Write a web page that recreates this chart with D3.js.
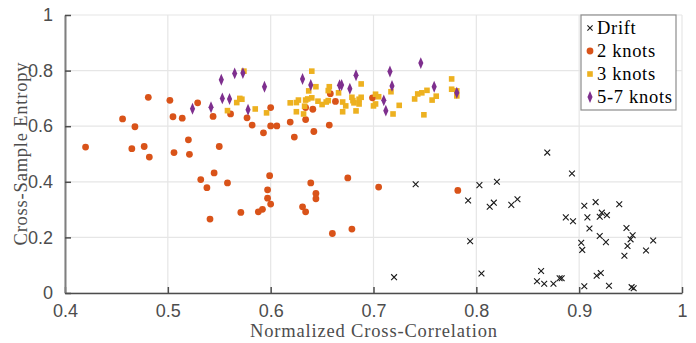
<!DOCTYPE html>
<html>
<head>
<meta charset="utf-8">
<script src="https://cdn.jsdelivr.net/npm/d3@7"></script>
<style>
  html, body { margin: 0; padding: 0; background: #fff; }
  svg { display: block; }
</style>
</head>
<body>
<svg id="chart" width="696" height="343"></svg>
<script>
// Drift (x markers)
const driftX = [0.720,0.741,0.792,0.794,0.803,0.805,0.813,0.817,0.820,0.834,0.840,0.859,0.863,0.866,0.875,0.881,0.883,0.869,0.887,0.894,0.893,0.902,0.903,0.905,0.905,0.908,0.910,0.916,0.917,0.921,0.920,0.922,0.920,0.927,0.926,0.929,0.939,0.944,0.946,0.947,0.950,0.952,0.951,0.953,0.965,0.972];
const driftY = [0.057,0.391,0.333,0.186,0.388,0.070,0.310,0.325,0.400,0.317,0.337,0.042,0.079,0.033,0.033,0.053,0.053,0.505,0.272,0.258,0.430,0.181,0.155,0.314,0.024,0.272,0.232,0.327,0.062,0.072,0.274,0.289,0.205,0.280,0.183,0.026,0.319,0.134,0.234,0.169,0.193,0.208,0.021,0.017,0.153,0.189];

// 2 knots (circles)
const knots2X = [0.420,0.456,0.468,0.465,0.477,0.482,0.481,0.502,0.505,0.514,0.506,0.520,0.521,0.529,0.544,0.550,0.532,0.538,0.545,0.541,0.558,0.561,0.577,0.582,0.593,0.600,0.600,0.606,0.599,0.597,0.597,0.600,0.592,0.588,0.571,0.619,0.623,0.634,0.634,0.641,0.642,0.639,0.644,0.644,0.631,0.634,0.657,0.658,0.663,0.675,0.679,0.660,0.699,0.705,0.782];
const knots2Y = [0.525,0.626,0.598,0.519,0.527,0.489,0.704,0.693,0.634,0.629,0.505,0.551,0.499,0.684,0.635,0.527,0.408,0.379,0.432,0.266,0.396,0.644,0.630,0.604,0.576,0.601,0.667,0.601,0.422,0.371,0.341,0.320,0.301,0.292,0.290,0.615,0.561,0.667,0.624,0.661,0.581,0.396,0.358,0.339,0.310,0.292,0.604,0.717,0.689,0.414,0.230,0.214,0.702,0.381,0.369];

// 3 knots (squares)
const knots3X = [0.574,0.570,0.572,0.567,0.558,0.585,0.596,0.619,0.625,0.627,0.625,0.632,0.633,0.634,0.636,0.637,0.640,0.640,0.644,0.646,0.650,0.654,0.657,0.656,0.656,0.666,0.670,0.670,0.673,0.679,0.680,0.681,0.683,0.686,0.686,0.688,0.688,0.700,0.702,0.702,0.705,0.717,0.719,0.725,0.740,0.743,0.747,0.749,0.752,0.757,0.761,0.776,0.776,0.781,0.781];
const knots3Y = [0.798,0.700,0.697,0.685,0.656,0.662,0.648,0.684,0.685,0.694,0.652,0.644,0.672,0.694,0.698,0.727,0.702,0.798,0.742,0.690,0.678,0.687,0.742,0.728,0.692,0.720,0.687,0.652,0.673,0.704,0.692,0.684,0.655,0.680,0.697,0.752,0.704,0.673,0.680,0.715,0.706,0.724,0.644,0.675,0.698,0.716,0.720,0.641,0.729,0.694,0.708,0.770,0.733,0.727,0.709];

// 5-7 knots (diamonds)
const knots57X = [0.524,0.542,0.552,0.553,0.560,0.565,0.573,0.578,0.594,0.631,0.639,0.667,0.669,0.677,0.683,0.710,0.712,0.716,0.718,0.746,0.759,0.781];
const knots57Y = [0.663,0.668,0.767,0.700,0.698,0.790,0.791,0.659,0.742,0.770,0.748,0.747,0.748,0.735,0.783,0.693,0.656,0.797,0.745,0.827,0.742,0.720];

const xTicks = [0.4,0.5,0.6,0.7,0.8,0.9,1];
const yTicks = [0,0.2,0.4,0.6,0.8,1];
const seriesNames = ["Drift","2 knots","3 knots","5-7 knots"];
const seriesColors = ["#1a1a1a","#D95319","#EDB120","#7E2F8E"];

const svg = d3.select("#chart");
const L = 65, R = 682, T = 15, B = 293;
const x = d3.scaleLinear().domain([0.4, 1]).range([L, R]);
const y = d3.scaleLinear().domain([0, 1]).range([B, T]);

// grid
const grid = svg.append("g");
grid.selectAll(".gx").data(xTicks).join("line")
  .attr("x1", d => x(d)).attr("x2", d => x(d)).attr("y1", T).attr("y2", B)
  .attr("stroke", "#e6e6e6").attr("stroke-width", 1.2);
grid.selectAll(".gy").data(yTicks).join("line")
  .attr("y1", d => y(d)).attr("y2", d => y(d)).attr("x1", L).attr("x2", R)
  .attr("stroke", "#e6e6e6").attr("stroke-width", 1.2);

// axes
const tickFont = "'Liberation Sans', Arial, sans-serif";
const xAxis = d3.axisBottom(x).tickValues(xTicks).tickSizeInner(-6).tickSizeOuter(0)
  .tickFormat(d => d === 1 ? "1" : d3.format(".1f")(d)).tickPadding(11);
const gx = svg.append("g").attr("transform", `translate(0,${B})`).call(xAxis);
gx.select(".domain").attr("stroke", "#4d4d4d").attr("stroke-width", 1.5);
gx.selectAll(".tick line").attr("stroke", "#4d4d4d").attr("stroke-width", 1.5);
gx.selectAll(".tick text").attr("font-family", tickFont).attr("font-size", 18)
  .attr("fill", "#4d4d4d").attr("dy", "0.71em");

const yAxis = d3.axisLeft(y).tickValues(yTicks).tickSizeInner(-6).tickSizeOuter(0)
  .tickFormat(d => (d === 0 || d === 1) ? String(d) : d3.format(".1f")(d)).tickPadding(12);
const gy = svg.append("g").attr("transform", `translate(${L},0)`).call(yAxis);
gy.select(".domain").attr("stroke", "#7f7f7f").attr("stroke-width", 2);
gy.selectAll(".tick line").attr("stroke", "#4d4d4d").attr("stroke-width", 1.5);
gy.selectAll(".tick text").attr("font-family", tickFont).attr("font-size", 18)
  .attr("fill", "#4d4d4d");

// axis titles
const serif = "'Liberation Serif', 'Times New Roman', serif";
svg.append("text").attr("x", (L + R) / 2).attr("y", 337).attr("text-anchor", "middle")
  .attr("font-family", serif).attr("font-size", 18.5).attr("fill", "#4d4d4d")
  .attr("textLength", 247).attr("lengthAdjust", "spacing")
  .text("Normalized Cross-Correlation");
svg.append("text").attr("transform", `translate(27,${(T + B) / 2}) rotate(-90)`)
  .attr("text-anchor", "middle")
  .attr("font-family", serif).attr("font-size", 18.5).attr("fill", "#4d4d4d")
  .attr("textLength", 183).attr("lengthAdjust", "spacing")
  .text("Cross-Sample Entropy");

// marks
const plot = svg.append("g");
const diamond = d3.symbol().type(d3.symbolDiamond).size(34);

plot.selectAll(".k2").data(d3.range(knots2X.length)).join("circle")
  .attr("cx", i => x(knots2X[i])).attr("cy", i => y(knots2Y[i])).attr("r", 3.4)
  .attr("fill", seriesColors[1]);

plot.selectAll(".k3").data(d3.range(knots3X.length)).join("rect")
  .attr("x", i => x(knots3X[i]) - 2.8).attr("y", i => y(knots3Y[i]) - 2.8)
  .attr("width", 5.6).attr("height", 5.6).attr("fill", seriesColors[2]);

plot.selectAll(".k57").data(d3.range(knots57X.length)).join("path")
  .attr("d", diamond)
  .attr("transform", i => `translate(${x(knots57X[i])},${y(knots57Y[i])}) scale(0.82,1.1)`)
  .attr("fill", seriesColors[3]);

const xs = 2.9;
plot.selectAll(".dr").data(d3.range(driftX.length)).join("path")
  .attr("d", i => {
    const cx = x(driftX[i]), cy = y(driftY[i]);
    return `M${cx - xs},${cy - xs}L${cx + xs},${cy + xs}M${cx - xs},${cy + xs}L${cx + xs},${cy - xs}`;
  })
  .attr("stroke", seriesColors[0]).attr("stroke-width", 1.1).attr("fill", "none");

// legend
const lg = svg.append("g");
lg.append("rect").attr("x", 581).attr("y", 15).attr("width", 95).attr("height", 95)
  .attr("fill", "#fff").attr("stroke", "#8c8c8c").attr("stroke-width", 1.2);
const rowY = d => 28 + d * 23;
seriesNames.forEach((name, k) => {
  const cx = 590, cy = rowY(k);
  if (k === 0) {
    lg.append("path").attr("d", `M${cx-2.6},${cy-2.6}L${cx+2.6},${cy+2.6}M${cx-2.6},${cy+2.6}L${cx+2.6},${cy-2.6}`)
      .attr("stroke", seriesColors[0]).attr("stroke-width", 1.1);
  } else if (k === 1) {
    lg.append("circle").attr("cx", cx).attr("cy", cy).attr("r", 3.4).attr("fill", seriesColors[1]);
  } else if (k === 2) {
    lg.append("rect").attr("x", cx - 2.8).attr("y", cy - 2.8).attr("width", 5.6).attr("height", 5.6).attr("fill", seriesColors[2]);
  } else {
    lg.append("path").attr("d", diamond).attr("transform", `translate(${cx},${cy}) scale(0.82,1.1)`).attr("fill", seriesColors[3]);
  }
  lg.append("text").attr("x", 597).attr("y", cy).attr("dy", "0.35em")
    .attr("font-family", serif).attr("font-size", 18.5).attr("fill", "#000")
    .attr("letter-spacing", 0.7)
    .text(name);
});
</script>
</body>
</html>
